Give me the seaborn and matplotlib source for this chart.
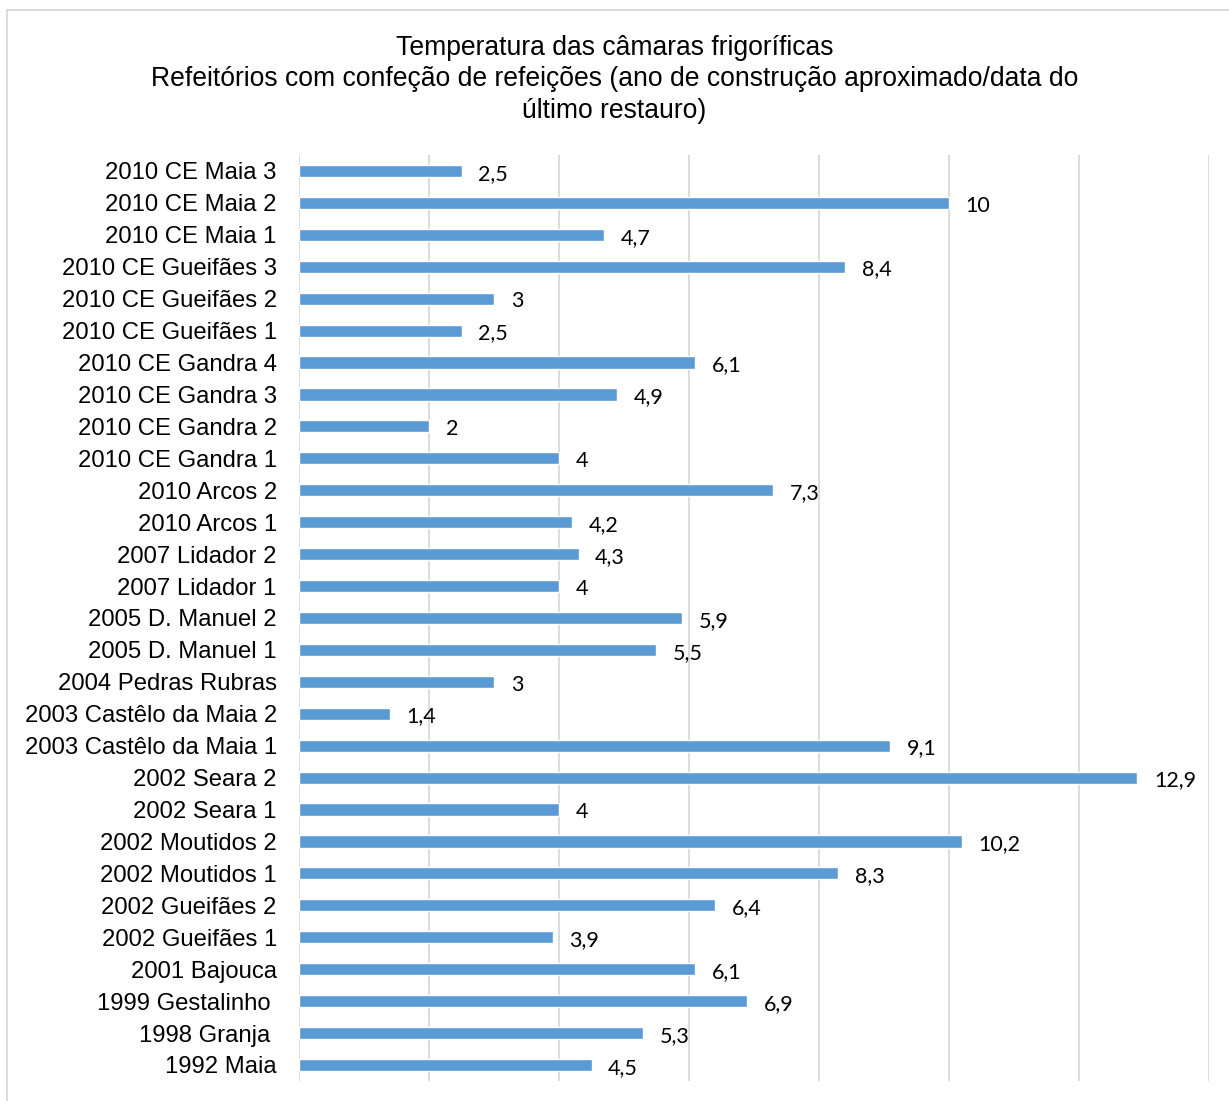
import matplotlib
matplotlib.use("Agg")
import matplotlib.pyplot as plt
import matplotlib.patches as patches
import seaborn as sns
import pandas as pd

categories = [
    "2010 CE Maia 3", "2010 CE Maia 2", "2010 CE Maia 1",
    "2010 CE Gueifães 3", "2010 CE Gueifães 2", "2010 CE Gueifães 1",
    "2010 CE Gandra 4", "2010 CE Gandra 3", "2010 CE Gandra 2", "2010 CE Gandra 1",
    "2010 Arcos 2", "2010 Arcos 1", "2007 Lidador 2", "2007 Lidador 1",
    "2005 D. Manuel 2", "2005 D. Manuel 1", "2004 Pedras Rubras",
    "2003 Castêlo da Maia 2", "2003 Castêlo da Maia 1",
    "2002 Seara 2", "2002 Seara 1", "2002 Moutidos 2", "2002 Moutidos 1",
    "2002 Gueifães 2", "2002 Gueifães 1", "2001 Bajouca",
    "1999 Gestalinho ", "1998 Granja ", "1992 Maia",
]
temperatures = [
    2.5, 10, 4.7,
    8.4, 3, 2.5,
    6.1, 4.9, 2, 4,
    7.3, 4.2, 4.3, 4,
    5.9, 5.5, 3,
    1.4, 9.1,
    12.9, 4, 10.2, 8.3,
    6.4, 3.9, 6.1,
    6.9, 5.3, 4.5,
]
title = ("Temperatura das câmaras frigoríficas\n"
         "Refeitórios com confeção de refeições (ano de construção aproximado/data do\n"
         "último restauro)")

df = pd.DataFrame({"local": categories, "temp": temperatures})

sns.set_theme(style="white")
plt.rcParams["font.family"] = ["Liberation Sans", "DejaVu Sans"]

fig = plt.figure(figsize=(12.29, 11.01), dpi=100)
ax = fig.add_axes([0.2433, 0.0182, 0.7404, 0.841])

sns.barplot(data=df, x="temp", y="local", orient="h", color="#5B9BD5",
            saturation=1, width=0.38, ax=ax)

ax.set_xlim(0, 14)
ax.set_xticks(range(0, 15, 2))
ax.set_xticklabels([])
ax.grid(axis="x", color="#D9D9D9", linewidth=1.3)
ax.set_axisbelow(True)
for s in ax.spines.values():
    s.set_visible(False)
ax.set_xlabel("")
ax.set_ylabel("")
ax.tick_params(axis="y", length=0, pad=16, labelsize=17.2, labelcolor="black")
ax.tick_params(axis="x", length=0)

labels = [f"{v:g}".replace(".", ",") for v in temperatures]
texts = ax.bar_label(ax.containers[0], labels=labels, padding=12, fontsize=15.5,
                     family=["Lato", "DejaVu Sans"], color="black")
for t in texts:
    x0, y0 = t.xyann
    t.xyann = (x0, y0 - 2)

fig.suptitle(title, y=0.9685, fontsize=19.1, linespacing=1.29, color="black")

frame = patches.Rectangle((7 / 1229, -0.01), 1.02, 1 - 10 / 1101 + 0.01,
                          transform=fig.transFigure, fill=False,
                          edgecolor="#D9D9D9", linewidth=1.3)
fig.patches.append(frame)

fig.savefig("out.png", dpi=100, facecolor="white")
